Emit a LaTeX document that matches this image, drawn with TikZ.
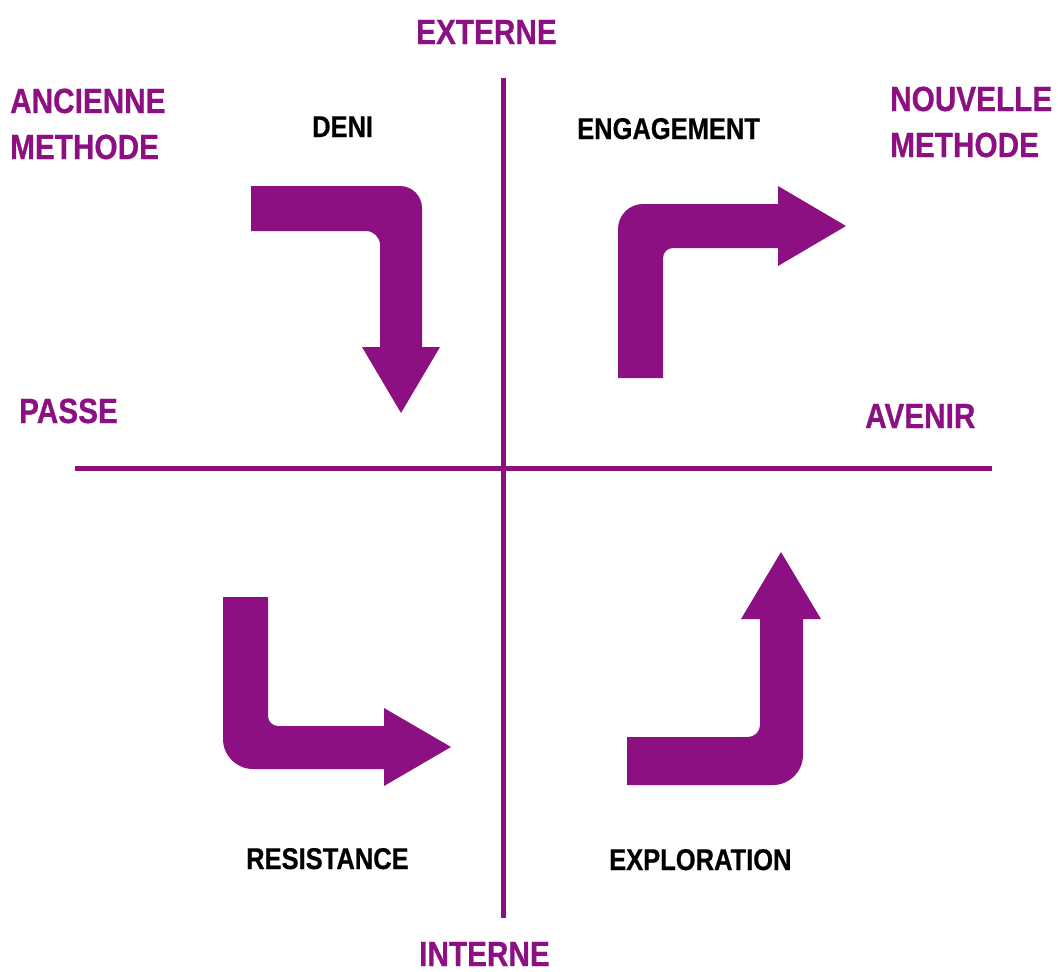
\documentclass[tikz,border=0pt]{standalone}
\usepackage{fontspec}
\setmainfont{Liberation Sans}[FakeStretch=0.85,BoldFeatures={FakeBold=0.6}]
\definecolor{plum}{RGB}{140,16,130}
\begin{document}
\begin{tikzpicture}[x=1pt,y=-1pt,
  axis/.style={draw=plum,line width=5pt},
  turnarrow/.style={fill=plum,draw=none},
  pole/.style={text=plum,font=\bfseries\fontsize{35}{46}\selectfont,inner sep=0pt},
  phase/.style={text=black,font=\bfseries\fontsize{30}{36}\selectfont,inner sep=0pt}]
\useasboundingbox (0,0) rectangle (1058,972);

% axes
\coordinate (top) at (503,78);
\coordinate (bottom) at (503,918);
\coordinate (left) at (75,468);
\coordinate (right) at (992,468);
\draw[axis] (top) -- (bottom);
\draw[axis] (left) -- (right);

% axis labels (base anchor of a two-line node sits on its last line)
\node[pole,anchor=base west] (externe) at (416,44) {EXTERNE};
\node[pole,anchor=base west] (interne) at (419,966) {INTERNE};
\node[pole,anchor=base west] (passe) at (19,423) {PASSE};
\node[pole,anchor=base west] (avenir) at (865,428) {AVENIR};
\node[pole,align=left,anchor=base west] (ancienne) at (10,159) {ANCIENNE\\METHODE};
\node[pole,align=left,anchor=base west] (nouvelle) at (890,157) {NOUVELLE\\METHODE};

% quadrant names
\node[phase,anchor=base west] (deni) at (312,137) {DENI};
\node[phase,anchor=base west] (engagement) at (577,139) {ENGAGEMENT};
\node[phase,anchor=base west] (resistance) at (246,869) {RESISTANCE};
\node[phase,anchor=base west] (exploration) at (609,870) {EXPLORATION};

% bent arrows
\fill[turnarrow] (251,186) -- (400,186) .. controls (412.1,186) and (422,195.9) .. (422,208)
  -- (422,347) -- (440,347) -- (401,413) -- (362,347) -- (380,347) -- (380,245)
  .. controls (380,237.3) and (373.7,231) .. (366,231) -- (251,231) -- cycle;

\fill[turnarrow] (618,378) -- (618,229) .. controls (618,215.2) and (629.2,204) .. (643,204)
  -- (778,204) -- (778,186) -- (846,226) -- (778,266) -- (778,248) -- (673,248)
  .. controls (667.5,248) and (663,252.5) .. (663,258) -- (663,378) -- cycle;

\fill[turnarrow] (223,597) -- (223,739) .. controls (223,755.6) and (236.4,769) .. (253,769)
  -- (384,769) -- (384,786) -- (451,747) -- (384,708) -- (384,726) -- (278,726)
  .. controls (272.5,726) and (268,721.5) .. (268,716) -- (268,597) -- cycle;

\fill[turnarrow] (627,737) -- (748,737) .. controls (754.6,737) and (760,731.6) .. (760,725)
  -- (760,619) -- (741,619) -- (781,552) -- (821,619) -- (803,619) -- (803,755)
  .. controls (803,771.6) and (789.6,785) .. (773,785) -- (627,785) -- cycle;
\end{tikzpicture}
\end{document}
